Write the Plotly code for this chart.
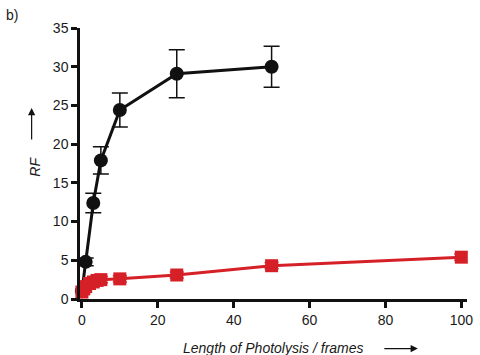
import plotly.graph_objects as go

# Length of photolysis (frames) and response factor RF
frames_black = [0, 1, 3, 5, 10, 25, 50]
rf_black = [1.0, 4.8, 12.4, 17.9, 24.4, 29.1, 30.0]
err_black = [0.3, 0.5, 1.25, 1.75, 2.2, 3.1, 2.65]

frames_red = [0, 0.5, 1, 2, 3, 4, 5, 10, 25, 50, 100]
rf_red = [0.9, 1.3, 1.6, 2.0, 2.2, 2.4, 2.5, 2.6, 3.1, 4.3, 5.4]
err_red = [0.3, 0.3, 0.3, 0.35, 0.35, 0.4, 0.4, 0.4, 0.4, 0.4, 0.4]

x_ticks = [0, 20, 40, 60, 80, 100]
y_ticks = [0, 5, 10, 15, 20, 25, 30, 35]

BLACK = "#111111"
RED = "#d62027"
TEXT = "#1a1a1a"
FONT = "Liberation Sans, Arial, sans-serif"

fig = go.Figure()

fig.add_trace(go.Scatter(
    x=frames_black, y=rf_black, mode="lines+markers",
    line=dict(color=BLACK, width=3),
    marker=dict(symbol="circle", size=14, color=BLACK),
    error_y=dict(type="data", array=err_black, color=BLACK, thickness=1.5, width=8),
    cliponaxis=False, showlegend=False,
))

fig.add_trace(go.Scatter(
    x=frames_red, y=rf_red, mode="lines+markers",
    line=dict(color=RED, width=3),
    marker=dict(symbol="square", size=13, color=RED),
    error_y=dict(type="data", array=err_red, color=RED, thickness=1.5, width=7),
    cliponaxis=False, showlegend=False,
))

axis_common = dict(
    showgrid=False, zeroline=False, showline=True, linecolor=BLACK, linewidth=2.5,
    ticks="outside", ticklen=6, tickwidth=2.5, tickcolor=BLACK,
    tickfont=dict(family=FONT, size=14, color=TEXT),
)

fig.update_layout(
    width=480, height=355,
    margin=dict(l=80, r=7, t=28, b=56),
    paper_bgcolor="white", plot_bgcolor="white",
    xaxis=dict(range=[-0.5, 101.5], tickvals=x_ticks, **axis_common),
    yaxis=dict(range=[0, 35], tickvals=y_ticks, **axis_common),
    font=dict(family=FONT, color=TEXT),
)

# Panel label
fig.add_annotation(text="b)", xref="paper", yref="paper", x=-0.175, y=1.085,
                   xanchor="center", yanchor="top", showarrow=False,
                   font=dict(family=FONT, size=14, color=TEXT))

# Axis titles with direction arrows
fig.add_annotation(text="<i>Length of Photolysis / frames</i>", xref="paper", yref="paper",
                   x=0.5, y=-0.18, xanchor="center", yanchor="middle", showarrow=False,
                   font=dict(family=FONT, size=14, color=TEXT))
fig.add_annotation(text="", xref="paper", yref="paper", x=0.873, y=-0.183,
                   ax=-35, ay=0, showarrow=True, arrowhead=2, arrowsize=1.2,
                   arrowwidth=1.2, arrowcolor=BLACK)

fig.add_annotation(text="<i>RF</i>", xref="paper", yref="paper",
                   x=-0.115, y=0.49, xanchor="center", yanchor="middle", textangle=-90,
                   showarrow=False, font=dict(family=FONT, size=14, color=TEXT))
fig.add_annotation(text="", xref="paper", yref="paper", x=-0.125, y=0.705,
                   ax=0, ay=33, showarrow=True, arrowhead=2, arrowsize=1.2,
                   arrowwidth=1.2, arrowcolor=BLACK)

fig.write_html("out.html")
